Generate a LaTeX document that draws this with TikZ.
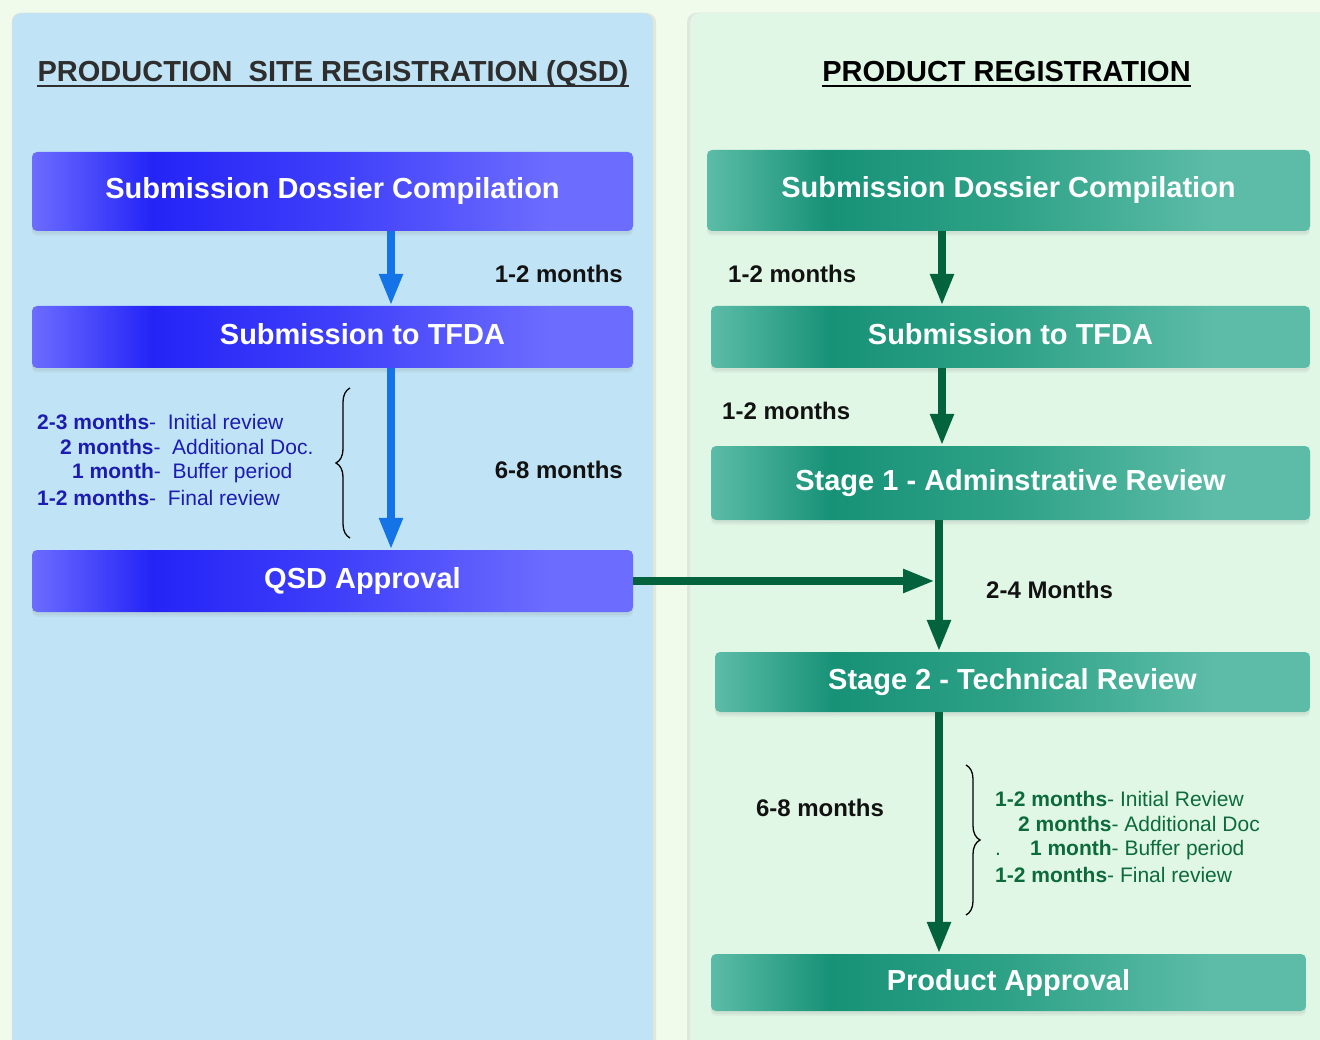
\documentclass[tikz,border=0pt]{standalone}
\usepackage{fontspec}
\setmainfont{Liberation Sans}
\usetikzlibrary{arrows.meta, shadows, decorations.pathreplacing}

\definecolor{pagebg}{HTML}{F1FBEB}
\definecolor{qsdpanel}{HTML}{C0E4F5}
\definecolor{prodpanel}{HTML}{E0F7E6}
\definecolor{qsdlight}{HTML}{6C6CFF}
\definecolor{qsddeep}{HTML}{2424F7}
\definecolor{qsdmid}{HTML}{3E3EFA}
\definecolor{prodlight}{HTML}{5CBCA7}
\definecolor{proddeep}{HTML}{179277}
\definecolor{prodmid}{HTML}{2EA287}
\definecolor{qsdarrow}{HTML}{1473E6}
\definecolor{prodarrow}{HTML}{02633C}
\definecolor{qsdtext}{HTML}{1C1CB0}
\definecolor{prodtext}{HTML}{0D6B3B}
\definecolor{headtext}{HTML}{2E2E2E}

\pgfdeclarehorizontalshading{qsdshade}{100bp}{color(0bp)=(qsdlight); color(25bp)=(qsdlight); color(35bp)=(qsddeep); color(50bp)=(qsdmid); color(68bp)=(qsdlight); color(100bp)=(qsdlight)}
\pgfdeclarehorizontalshading{prodshade}{100bp}{color(0bp)=(prodlight); color(25bp)=(prodlight); color(35bp)=(proddeep); color(50bp)=(prodmid); color(67bp)=(prodlight); color(100bp)=(prodlight)}

\begin{document}
\begin{tikzpicture}[
		x=1pt, y=-1pt,
		heading/.style={anchor=base, inner sep=0pt, font=\fontsize{29}{34}\selectfont\bfseries},
		stagebox/.style={rounded corners=5pt, text=white, text height=21pt, text depth=6pt,
			font=\fontsize{29}{34}\selectfont\bfseries,
			drop shadow={shadow xshift=0pt, shadow yshift=-5pt, opacity=.07},
			drop shadow={shadow xshift=0pt, shadow yshift=-3pt, opacity=.1}},
		qsdbox/.style={stagebox, shade, shading=qsdshade, minimum width=601pt},
		prodbox/.style={stagebox, shade, shading=prodshade},
		dur/.style={inner sep=0pt, text=black!93, font=\fontsize{24}{28}\selectfont\bfseries},
		qsdstep/.style={anchor=west, inner sep=0pt, text=qsdtext, font=\fontsize{21}{25}\selectfont},
		prodstep/.style={anchor=west, inner sep=0pt, text=prodtext, font=\fontsize{21}{25}\selectfont},
		qsdflow/.style={qsdarrow, line width=8pt, -{Triangle[length=32pt,width=22pt]}},
		prodflow/.style={prodarrow, line width=8pt, -{Triangle[length=32pt,width=22pt]}},
		span/.style={black, line width=1.3pt, decorate, decoration={brace, amplitude=14pt}}
		]
		\useasboundingbox (0,0) rectangle (1320,1040);
		\clip (0,0) rectangle (1320,1040);
		\fill[pagebg] (0,0) rectangle (1320,1040);
		\filldraw[qsdpanel, draw=black!12, rounded corners=9pt,
			drop shadow={shadow xshift=3pt, shadow yshift=0pt, opacity=.15}] (12,13) rectangle (653,1060);
		\filldraw[prodpanel, draw=black!12, rounded corners=9pt,
			drop shadow={shadow xshift=-3pt, shadow yshift=0pt, opacity=.15}] (690,13) rectangle (1340,1060);

		\node[heading, text=headtext] (qhead) at (333,82) {PRODUCTION\ \ SITE REGISTRATION (QSD)};
		\draw[headtext, line width=2.5pt] ([yshift=-4pt]qhead.base west) -- ([yshift=-4pt]qhead.base east);
		\node[heading, text=black] (phead) at (1006.5,82) {PRODUCT REGISTRATION};
		\draw[black, line width=2.5pt] ([yshift=-4pt]phead.base west) -- ([yshift=-4pt]phead.base east);

		\node[qsdbox, minimum height=79pt] (qdossier) at (332.5,191.5) {Submission Dossier Compilation};
		\node[qsdbox, minimum height=62pt] (qtfda) at (332.5,337) {\hspace*{60pt}Submission to TFDA};
		\node[qsdbox, minimum height=62pt] (qapproval) at (332.5,581) {\hspace*{60pt}QSD Approval};

		\node[prodbox, minimum width=603pt, minimum height=81pt] (pdossier) at (1008.5,190.5) {Submission Dossier Compilation};
		\node[prodbox, minimum width=599pt, minimum height=62pt] (ptfda) at (1010.5,337) {Submission to TFDA};
		\node[prodbox, minimum width=599pt, minimum height=74pt] (pstage1) at (1010.5,483) {Stage 1 - Adminstrative Review};
		\node[prodbox, minimum width=595pt, minimum height=60pt] (pstage2) at (1012.5,682) {Stage 2 - Technical Review};
		\node[prodbox, minimum width=595pt, minimum height=57pt] (papproval) at (1008.5,982.5) {Product Approval};

		\draw[qsdflow] ([xshift=58.5pt]qdossier.south) -- ([xshift=58.5pt]qtfda.north);
		\draw[qsdflow] ([xshift=58.5pt]qtfda.south) -- ([xshift=58.5pt]qapproval.north);

		\draw[prodflow] ([xshift=-66.5pt]pdossier.south) -- ([xshift=-66.5pt]pdossier.south |- ptfda.north);
		\draw[prodflow] ([xshift=-68.5pt]ptfda.south) -- ([xshift=-68.5pt]ptfda.south |- pstage1.north);
		\draw[prodflow] ([xshift=-71.5pt]pstage1.south) -- ([xshift=-71.5pt]pstage1.south |- pstage2.north);
		\draw[prodflow] ([xshift=-73.5pt]pstage2.south) -- ([xshift=-73.5pt]pstage2.south |- papproval.north);
		\draw[prodflow] (qapproval.east) -- ([xshift=-77.5pt]qapproval.east -| pstage2.north);

		\node[dur, anchor=east] (qtime1) at (623,274) {1-2 months};
		\node[dur, anchor=east] (qtime2) at (623,470) {6-8 months};
		\node[dur, anchor=west] (ptime1) at (728,274) {1-2 months};
		\node[dur, anchor=west] (ptime2) at (722,411) {1-2 months};
		\node[dur, anchor=west] (ptime3) at (986,590) {2-4 Months};
		\node[dur] (ptime4) at (820,808) {6-8 months};

		\draw[span] (350,538) -- (350,388);
		\node[qsdstep] (qstep1) at (37,422) {\textbf{2-3 months}-\ \ Initial review};
		\node[qsdstep] (qstep2) at (60,447) {\textbf{2 months}-\ \ Additional Doc.};
		\node[qsdstep] (qstep3) at (72,473) {\textbf{1 month}-\ \ Buffer period};
		\node[qsdstep] (qstep4) at (37,498) {\textbf{1-2 months}-\ \ Final review};

		\draw[span] (966,765) -- (966,915);
		\node[prodstep] (pstep1) at (995,799) {\textbf{1-2 months}- Initial Review};
		\node[prodstep] (pstep2) at (1018,824) {\textbf{2 months}- Additional Doc};
		\node[prodstep] (pstep3) at (995,850) {.\hspace*{29pt}\textbf{1 month}- Buffer period};
		\node[prodstep] (pstep4) at (995,875) {\textbf{1-2 months}- Final review};
	\end{tikzpicture}
\end{document}
